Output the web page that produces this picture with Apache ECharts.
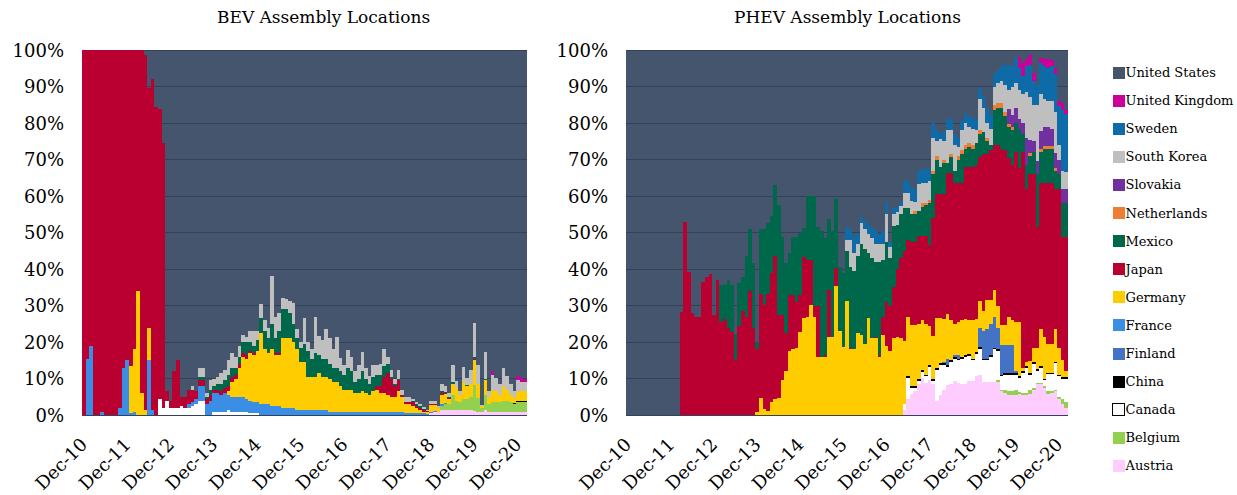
<!DOCTYPE html>
<html lang="en">
<head>
<meta charset="UTF-8">
<title>BEV / PHEV Assembly Locations</title>
<script src="https://cdn.jsdelivr.net/npm/echarts@6/dist/echarts.min.js"></script>
<style>
    body { margin: 0; background: #fff; }
    /* no anti-aliased seams between the touching monthly bars */
    #main path, #main rect { shape-rendering: crispEdges; }
</style>
</head>
<body>
<div id="main" style="width:1237px;height:495px;"></div>
<script>
// monthly shares (%) Dec-10 .. Feb-21
var months = ['Jan','Feb','Mar','Apr','May','Jun','Jul','Aug','Sep','Oct','Nov','Dec'];
var categories = [];
for (var i = 0; i < 123; i++) {
    var m = 11 + i;
    categories.push(months[m % 12] + '-' + (10 + Math.floor(m / 12)));
}
var yTicks = [0, 10, 20, 30, 40, 50, 60, 70, 80, 90, 100];

// ---- BEV ----
var bevAustria = [
0,0,0,0,0,0,0,0,0,0, 0,0,0,0,0,0,0,0,0,0, 0,0,0,0,0,0,0,0,0,0,
0,0,0,0,0,0,0,0,0,0, 0,0,0,0,0,0,0,0,0,0, 0,0,0,0,0,0,0,0,0,0,
0,0,0,0,0,0,0,0,0,0, 0,0,0,0,0,0,0,0,0,0, 0,0,0,0,0,0,0,0,0,0,
0,0,0,0,0,0,0.5,0.8,0.8,1.5, 1.5,1.5,1.5,1.5,1.5,1.5,1.5,1.5,1.2,1,
1,1.5,1,1,1,1,1,1,1,1, 1,1,1];
var bevBelgium = [
0,0,0,0,0,0,0,0,0,0, 0,0,0,0,0,0,0,0,0,0, 0,0,0,0,0,0,0,0,0,0,
0,0,0,0,0,0,0,0,0,0, 0,0,0,0,0,0,0,0,0,0, 0,0,0,0,0,0,0,0,0,0,
0,0,0,0,0,0,0,0,0,0, 0,0,0,0,0,0,0,0,0,0, 0,0,0,0,0,0,0,0,0,0,
0,0,0,0,0,0,0,0,0,1, 1.5,1.5,4,2.5,2,3,3,3.5,7,3.8,
1,4,2,2.5,2.5,2.5,3,3,2.5,2, 2.5,2.5,2.5];
var bevCanada = [
0,0,0,0,0,0,0,0,0,0, 0,0,0,0,0,0,0,0,0,0, 0,4.5,2,4,2,2,2,2.5,2,2,
2.5,3,4,4,0,0,1,1,1,1, 1.5,1,1,1,1,1,0.5,0.5,0.5,0, 0,0,0,0,0,0,0,0,0,0,
0,0,0,0,0,0,0,0,0,0, 0,0,0,0,0,0,0,0,0,0, 0,0,0,0,0,0,0,0,0,0,
0,0,0,0,0,0,0,0,0,0, 0,0,0,0,0,0,0,0,0,0,
0,0,0,0,0,0,0,0,0,0, 0,0,0];
var bevChina = [
0,0,0,0,0,0,0,0,0,0, 0,0,0,0,0,0,0,0,0,0, 0,0,0,0,0,0,0,0,0,0,
0,0,0,0,0,0,0,0,0,0, 0,0,0,0,0,0,0,0,0,0, 0,0,0,0,0,0,0,0,0,0,
0,0,0,0,0,0,0,0,0,0, 0,0,0,0,0,0,0,0,0,0, 0,0,0,0,0,0,0,0,0,0,
0,0,0,0,0,0,0,0,0,0, 0,0,0,0,0,0,0,0,0,0,
0,0,0,0,0,0,0,0,0,0.3, 0.3,0.5,0.5];
var bevFrance = [
0,15.5,19,0,0,1,0,0,0,0, 2,13,15,0.5,1,0,0,0,15,1.5, 0,0,0,0,0,0,0,0,0,1,
1,1.5,4,4,3,4,5,5,4.5,5, 4,4,4,4,4,3.5,3.5,3,3,3, 3,3,2.5,2.5,2.5,2,2,2,2,1.5,
1.5,1.5,1.5,1.5,1.5,1.5,1.5,1.5,1,1, 1,1,1,1,1,1,1,1,1,1, 1,1,1,1,1,1,1,1,1,0.5,
0.5,0.5,0.5,0.5,0.5,0.3,0.3,0.3,0.2,0.5, 0.3,0,0,0,0,0,0,0,0,0,
0,0,0,0,0,0,0,0,0,0, 0,0,0];
var bevGermany = [
0,0,0,0,0,0,0,0,0,0, 0,0,0,13,17,34,6,1.5,9,0, 0,0,0,0,0,0,0,0,0,0,
0,0,0,0,0,0,0,0,0,0, 1,4,5,8,11,11,13,13,14,19.5, 15,14,15.5,14,14,19,19,19,18,16.5,
13,13,9,9,9,10,9,9,9,8, 8,7,6,6,6,5,5,5.5,5,4.5, 5.5,6,5,5,4.5,4,4,5.5,4,2.5,
2.5,2,1.5,1,0.5,0.5,2,1.7,1,2.5, 2.5,1.5,3,3.5,2,4.5,3.5,3.5,7,3.6,
0.5,4,2,3.5,3,2,4,3,2,1.5, 2.5,2.5,2.5];
var bevJapan = [
100,84.5,81,100,100,99,100,100,100,100, 98,87,85,86.5,82,66,94,97,65.7,90.5,
84.4,79.3,72.6,2.5,2,10,13,2.5,3,4, 3.5,2,1.5,1.5,1.5,1.5,1,1,1,1.5,
1.5,1.5,1,1,1,1,0.5,0.5,0,0, 0,0,0,0.5,0.5,0,0,0,0,0, 0,0,0,0,0,0,0,0,0,0,
0,0,0,0,0,0,0,0,0,0, 0,1,2,4.5,6,5,3,3,0.5,0.5, 0.5,1,0.5,0.5,0.5,0.3,0.3,0.3,0,0.5,
0.3,0.3,0,0,0,0,0,0,0.3,0, 0,0,0,0,0,0,0,0,0,0, 0,0,0];
var bevMexico = [
0,0,0,0,0,0,0,0,0,0, 0,0,0,0,0,0,0,0,0,0, 0,0,0,0,0,0,0,0,0,0,
0,0,1,1,0.5,1.5,1,1.5,2,2, 3,2.5,2,2,3,3.5,2.5,2,3,4, 5,4,7,4,6,8,8,7,5,3,
4,5,7,5,6.5,5,5,5,4,4, 4,4,4,6,5,3,4,5.5,4,3, 4,3,3,3,2.5,0.5,0.5,0.5,0,0,
0,0.5,0.5,0.5,0.3,0,0,0,0,0.5, 0.3,0.3,0.5,0,0,0,0.3,0,0.4,0,
0,0.3,0,0,0,0,0,0,0,0, 0,0,0];
var bevKorea = [
0,0,0,0,0,0,0,0,0,0, 0,0,0,0,0,0,0,0,0,0, 0,0,0,0,0,0,0,0,0,0,
1,0,2.5,2.5,1,2.5,2,2,3,3, 4,4,3,3,2,1.5,3,4,2.5,4, 3,3,13,6,5,3.2,2.8,3.3,5.8,2.6,
1.5,7,2.5,2.7,9.8,5.3,5,8,7,5, 8.3,3.6,2.8,4.8,4,3,3.8,5.3,2.9,2.1, 3.3,2.8,3,4.5,2,2,1.5,2.5,1.5,1.5,
1.5,0.5,0.5,0.5,0.5,0.3,0.8,0.8,0.5,1.9, 1.6,1,4.7,1.8,1.1,4.3,1.9,3.9,9.3,5.3,
0.4,7.4,1.6,4,3.7,2.9,4.9,3.6,2.9,1.8, 3.3,2.7,2.5];
var bevUK = [
0,0,0,0,0,0,0,0,0,0, 0,0,0,0,0,0,0,0,0,0, 0,0,0,0,0,0,0,0,0,0,
0,0,0,0,0,0,0,0,0,0, 0,0,0,0,0,0,0,0,0,0, 0,0,0,0,0,0,0,0,0,0,
0,0,0,0,0,0,0,0,0,0, 0,0,0,0,0,0,0,0,0,0, 0,0,0,0,0,0,0,0,0,0,
0,0,0,0,0,0,0,0,0,0, 0,0,0,0,0,0,0,0,0,0,
0,0,0,1,0,0,0,0,0,0, 1,1,1];

// ---- PHEV ----
var phevAustria = [
0,0,0,0,0,0,0,0,0,0, 0,0,0,0,0,0,0,0,0,0, 0,0,0,0,0,0,0,0,0,0,
0,0,0,0,0,0,0,0,0,0, 0,0,0,0,0,0,0,0,0,0, 0,0,0,0,0,0,0,0,0,0,
0,0,0,0,0,0,0,0,0,0, 0,0,0,0,0,0,0,1.5,4.3,5.7, 6.6,8.4,10.2,8.8,9.7,8.4,4,5.5,6.9,8.2,
8.4,9.3,8.8,8.4,8.4,9.3,9.3,10.7,11,9, 9,9,9,9,6.5,6,5.5,5.5,5.5,5.8,
5.5,5.5,5.8,7,8.4,8.4,7.5,5.8,6.2,6.5, 4.5,3,2];
var phevBelgium = [
0,0,0,0,0,0,0,0,0,0, 0,0,0,0,0,0,0,0,0,0, 0,0,0,0,0,0,0,0,0,0,
0,0,0,0,0,0,0,0,0,0, 0,0,0,0,0,0,0,0,0,0, 0,0,0,0,0,0,0,0,0,0,
0,0,0,0,0,0,0,0,0,0, 0,0,0,0,0,0,0,0,0,0, 0,0,0,0,0,0,0,0,0,0,
0,0,0,0,0,0,0,0,0,0, 0,0,0,0.5,0.5,1,1,1,1.5,0.5,
0.5,0.5,1,0.5,0.4,0.4,0.4,0.9,0.4,0.5, 0.5,1.5,1.5];
var phevCanada = [
0,0,0,0,0,0,0,0,0,0, 0,0,0,0,0,0,0,0,0,0, 0,0,0,0,0,0,0,0,0,0,
0,0,0,0,0,0,0,0,0,0, 0,0,0,0,0,0,0,0,0,0, 0,0,0,0,0,0,0,0,0,0,
0,0,0,0,0,0,0,0,0,0, 0,0,0,0,0,0,0,1.5,5.8,1.8, 0.9,0.9,1.6,1.8,3.6,0.9,8.5,8.2,6.8,4.9,
6.2,6.2,6.2,7.1,7.6,7,5.7,6.1,7,6, 6,7,9,8,3.6,4,4.5,4.5,4,4,
5.5,7,4.2,6.5,3.4,4.2,1.6,4.6,4.7,7.2, 5.6,5.5,6.5];
var phevChina = [
0,0,0,0,0,0,0,0,0,0, 0,0,0,0,0,0,0,0,0,0, 0,0,0,0,0,0,0,0,0,0,
0,0,0,0,0,0,0,0,0,0, 0,0,0,0,0,0,0,0,0,0, 0,0,0,0,0,0,0,0,0,0,
0,0,0,0,0,0,0,0,0,0, 0,0,0,0,0,0,0,0,0.5,0.4, 0.4,0.5,0.5,0.5,0.5,0.5,0.5,0.5,0.5,0.5,
0.5,0.3,0.5,0.5,0.5,0.5,0.5,0.5,0.8,0.5, 0.5,0.5,0.5,0.5,0.4,0.5,0.5,0.5,0.5,0.3,
0.5,0.5,0.5,0.5,0.5,0.5,0.5,0.3,0.3,0.3, 0.4,0.4,0.4];
var phevFinland = [
0,0,0,0,0,0,0,0,0,0, 0,0,0,0,0,0,0,0,0,0, 0,0,0,0,0,0,0,0,0,0,
0,0,0,0,0,0,0,0,0,0, 0,0,0,0,0,0,0,0,0,0, 0,0,0,0,0,0,0,0,0,0,
0,0,0,0,0,0,0,0,0,0, 0,0,0,0,0,0,0,0,0,0, 0,0,0,0,0,0,0,0,0.3,1.9,
0,0.7,1,0,0,0,0,0,5.2,7.5, 8,8.5,8.5,6,8.1,7.6,7.6,7.6,0.5,0,
0,0,0,0,0,0,0,0,0,0, 0,0,0];
var phevGermany = [
0,0,0,0,0,0,0,0,0,0, 0,0,0,0,0,0,0,0,0,0, 0,0,0,0,0,0,0,0,0,0,
0,0,0,0,0,0,1,4.8,1.6,1.2, 3.6,4.3,4.7,9.7,12,17.6,18,18.5,22.7,26.7, 27,30.1,27,16,16,16,21.3,21.3,35.3,23,
18.7,31.3,18,18,22.5,22,19.5,26.5,21,21, 16,22,19,17.5,21,21.3,21,17.4,16.4,16.8, 16.8,15.2,13.7,13.9,10.7,12,13.5,12.3,11.8,12.2,
11,8.5,9,10,9.8,9.2,10.5,9,7.3,5.5, 7.9,6.4,7.4,6,5.6,5.6,7.9,6.9,13.4,14.8,
0.8,1,3.3,3.8,5.6,10.1,11.4,8,8,9.1, 7.3,4.6,1.6];
var phevJapan = [
0,0,0,0,0,0,0,0,0,0, 0,0,0,0,0,28.3,53,39.2,28.1,26.9, 26.9,36.5,37.8,38.7,27.4,37,25.4,26.3,23.8,22.7,
15.1,24.5,28.6,27,34,23.8,17,28.3,28.5,31.9, 35.4,39.2,22.7,17.7,10.5,15.4,15,12.5,10.3,16.7, 15.5,12.4,2.9,13.9,0,0.5,13.1,0,5.1,0,
0,0,0.5,0,0,0,0,0,0,0.5, 0.5,5,12,12.5,14,18.7,22,24.6,21,22.8, 22.8,24,23,24,22.1,32.2,34,34,34.2,38.6,
40.3,38.6,38.1,37.6,41.7,42,42,42.2,39.4,43, 40.1,41.2,39.6,44,48.3,47.9,43.3,42.5,46.8,42.2,
59.4,47.5,51.2,47.7,33.2,40,42.2,44,44,38.4, 43.7,33.8,36.8];
var phevMexico = [
0,0,0,0,0,0,0,0,0,0, 0,0,0,0,0,0,0,0,0,0, 0,0,0,0,0,0,10.3,9.4,13.1,13,
7.2,11.8,9.3,16.5,17,17.8,2,17.9,20.9,19.5, 15.6,19.5,30.1,21.4,19.1,11.3,15.8,17.8,17,7.9, 17.5,17.5,30.1,21.6,34.5,31.9,19.4,29.2,18.9,17.6,
20.2,13.7,22.1,21.5,21,25,26,17.8,22,20.5, 25.5,15.5,16.5,13,16.9,12,12,11.8,8.8,7.5, 7.5,7,8,8.5,11.4,12,9.5,7.5,8.5,2.7,
4.2,3.4,6.4,7.9,5,5.5,5,6,6.3,6, 3.5,1.4,9.5,10,11,9.4,8.7,9.5,7.8,10.9,
4.8,6.6,5,6,14.5,8.6,9.4,9.4,9.4,5, 4,9.2,9.2];
var phevNetherlands = [
0,0,0,0,0,0,0,0,0,0, 0,0,0,0,0,0,0,0,0,0, 0,0,0,0,0,0,0,0,0,0,
0,0,0,0,0,0,0,0,0,0, 0,0,0,0,0,0,0,0,0,0, 0,0,0,0,0,0,0,0,0,0,
0,0,0,0,0,0,0,0,0,0, 0,0,0,0,0,0,0,0,0,0, 1,0,1,0.5,1,1,1,0,1,0,
1,0,1,1,1,1,1,0,1,0, 1,0,1.5,1.5,1.5,1,0.8,0.8,0,0,
0,0,0.8,0,0,0.8,0.8,0.8,0.8,0.8, 0,0,0];
var phevSlovakia = [
0,0,0,0,0,0,0,0,0,0, 0,0,0,0,0,0,0,0,0,0, 0,0,0,0,0,0,0,0,0,0,
0,0,0,0,0,0,0,0,0,0, 0,0,0,0,0,0,0,0,0,0, 0,0,0,0,0,0,0,0,0,0,
0,0,0,0,0,0,0,0,0,0, 0,0,0,0,0,0,0,0,0,0, 0,0,0,0,0,0,0,0,0,0,
0,0,0,0,0,0,0,0,0,0, 0,0,0,0,0,0,4,3.5,4,2.5,
3,7.2,3.5,3,3.5,4.8,5,5,4.5,4, 4,4,4];
var phevKorea = [
0,0,0,0,0,0,0,0,0,0, 0,0,0,0,0,0,0,0,0,0, 0,0,0,0,0,0,0,0,0,0,
0,0,0,0,0,0,0,0,0,0, 0,0,0,0,0,0,0,0,0,0, 0,0,0,0,0,0,0,0,0,0,
0,2.9,7.3,5,3.5,5.5,5.5,5.2,5.5,5, 4.9,4.5,7.5,3,3.2,3.5,2.4,4,4,3.6, 2.5,7.2,5.5,5.5,5,9,4,7.5,5,9,
6.5,7,2.5,5.5,6,4.5,4.5,3.5,8.5,6.5, 4,4.5,5,5.5,6,7.5,5.2,7.7,7,8,
8,12.7,11.7,10,15.5,10.2,7.7,7.2,7.7,11.2, 4,5,4.5];
var phevSweden = [
0,0,0,0,0,0,0,0,0,0, 0,0,0,0,0,0,0,0,0,0, 0,0,0,0,0,0,0,0,0,0,
0,0,0,0,0,0,0,0,0,0, 0,0,0,0,0,0,0,0,0,0, 0,0,0,0,0,0,0,0,0,0,
0,3.6,2.7,4.3,3,1.9,2.3,2.5,2.8,3.5, 2.4,3.5,3.5,1.5,1.5,1.5,1.1,3.2,3.2,3.6, 3.5,3.8,4,4,3.5,4,3,1.5,2.5,3,
3,3,2.5,2.5,2.7,3,3,3,3.2,3.5, 4,4,3.5,3.5,4,5.5,7,5.5,6.8,6,
5,7,9,6.5,5.5,8.5,9,9,9.5,10.5, 10.7,16.5,16];
var phevUK = [
0,0,0,0,0,0,0,0,0,0, 0,0,0,0,0,0,0,0,0,0, 0,0,0,0,0,0,0,0,0,0,
0,0,0,0,0,0,0,0,0,0, 0,0,0,0,0,0,0,0,0,0, 0,0,0,0,0,0,0,0,0,0,
0,0,0,0,0,0,0,0,0,0, 0,0,0,0,0,0,0,0,0,0, 0,0,0,0,0,0,0,0,0,0,
0,0,0,0,0,0,0,0,0,0, 0,0,0,0,0,0,0,0,0,3.2,
3.5,2,2.5,2.3,0,1.3,2,2.5,1.8,1.5, 1.3,2,1];

// stacking order, bottom to top
var names = ['Austria','Belgium','Canada','China','Finland','France','Germany','Japan',
    'Mexico','Netherlands','Slovakia','South Korea','Sweden','United Kingdom','United States'];
var colors = {
    'Austria': '#FFCCFF', 'Belgium': '#92D050', 'Canada': '#FFFFFF', 'China': '#000000',
    'Finland': '#4472C4', 'France': '#3B8EE5', 'Germany': '#FFCC00', 'Japan': '#BA0030',
    'Mexico': '#00684A', 'Netherlands': '#ED7D31', 'Slovakia': '#7030A0', 'South Korea': '#BFBFBF',
    'Sweden': '#0E6BA8', 'United Kingdom': '#CC0099', 'United States': '#44556D'
};

var bev = {
    'Austria': bevAustria, 'Belgium': bevBelgium, 'Canada': bevCanada, 'China': bevChina,
    'France': bevFrance, 'Germany': bevGermany, 'Japan': bevJapan, 'Mexico': bevMexico,
    'South Korea': bevKorea, 'United Kingdom': bevUK
};
var phev = {
    'Austria': phevAustria, 'Belgium': phevBelgium, 'Canada': phevCanada, 'China': phevChina,
    'Finland': phevFinland, 'Germany': phevGermany, 'Japan': phevJapan, 'Mexico': phevMexico,
    'Netherlands': phevNetherlands, 'Slovakia': phevSlovakia, 'South Korea': phevKorea,
    'Sweden': phevSweden, 'United Kingdom': phevUK
};

// United States = what is left of 100%
function rest(src) {
    return categories.map(function (c, i) {
        var s = 0;
        for (var k in src) s += src[k][i] || 0;
        return Math.max(0, +(100 - s).toFixed(2));
    });
}
bev['United States'] = rest(bev);
phev['United States'] = rest(phev);

var font = 'DejaVu Serif';

function buildSeries(src, idx, stack) {
    return names.filter(function (n) { return src[n]; }).map(function (n) {
        return {
            name: n, type: 'bar', stack: stack,
            xAxisIndex: idx, yAxisIndex: idx,
            barCategoryGap: '0%',
            // US sits under the gridlines, the others above them
            z: n === 'United States' ? 2 : 4,
            data: src[n],
            itemStyle: {color: colors[n]},
            emphasis: {disabled: true}
        };
    });
}

function xAxis(idx) {
    return {
        type: 'category', gridIndex: idx, data: categories,
        axisTick: {show: false},
        splitLine: {show: false},
        axisLine: {lineStyle: {color: '#D9D9D9'}},
        axisLabel: {
            interval: function (i) { return i % 12 === 0; },
            rotate: 45, fontSize: 18, fontFamily: font, color: '#000', margin: 26
        }
    };
}
function yAxis(idx) {
    return {
        type: 'value', gridIndex: idx, z: 3,
        min: yTicks[0], max: yTicks[yTicks.length - 1], interval: 10,
        axisLine: {show: false}, axisTick: {show: false},
        splitLine: {lineStyle: {color: '#334257', width: 1}},
        axisLabel: {formatter: '{value}%', fontSize: 18, fontFamily: font, color: '#000', margin: 18}
    };
}

var legendData = names.slice().reverse().map(function (n) {
    if (n === 'Canada') return {name: n, itemStyle: {borderColor: '#000', borderWidth: 1}};
    return {name: n};
});

var chart = echarts.init(document.getElementById('main'), null, {renderer: 'svg'});
chart.setOption({
    animation: false,
    backgroundColor: '#fff',
    graphic: [
        {type: 'text', left: 323 - 106, top: 8, style: {text: 'BEV Assembly Locations', fontSize: 17, fontFamily: font, fill: '#000'}},
        {type: 'text', left: 847 - 113, top: 8, style: {text: 'PHEV Assembly Locations', fontSize: 17, fontFamily: font, fill: '#000'}}
    ],
    legend: {
        data: legendData, orient: 'vertical', left: 1107, top: 61,
        itemWidth: 12, itemHeight: 12, itemGap: 15.1, icon: 'rect',
        textStyle: {fontSize: 13, lineHeight: 12, fontFamily: font, color: '#000', padding: [0, 0, 0, -4]}
    },
    grid: [
        {left: 82, top: 50, width: 445, height: 371},
        {left: 626, top: 50, width: 442, height: 371}
    ],
    xAxis: [xAxis(0), xAxis(1)],
    yAxis: [yAxis(0), yAxis(1)],
    series: buildSeries(bev, 0, 'bev').concat(buildSeries(phev, 1, 'phev'))
});
</script>
</body>
</html>
